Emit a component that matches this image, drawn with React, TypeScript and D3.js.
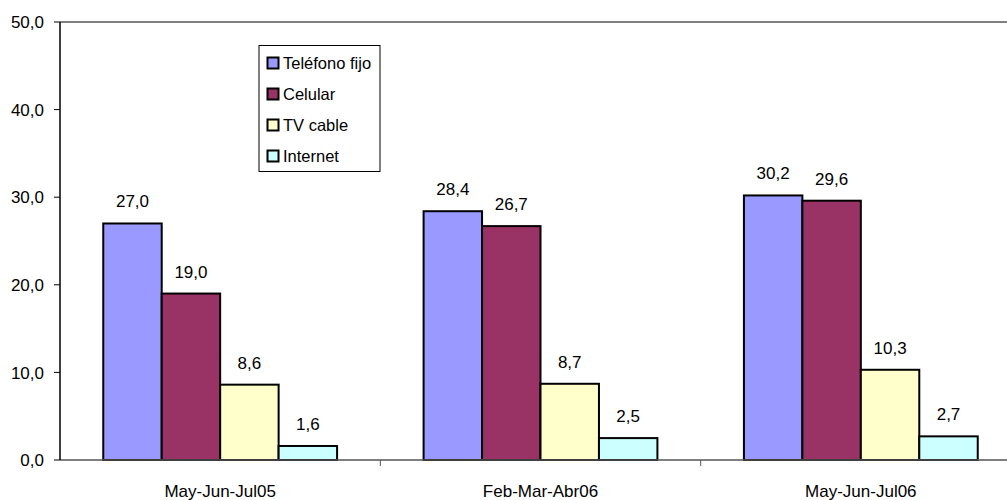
import { useEffect, useRef } from 'react';
import * as d3 from 'd3';

const categories = ['May-Jun-Jul05', 'Feb-Mar-Abr06', 'May-Jun-Jul06'];
const seriesNames = ['Teléfono fijo', 'Celular', 'TV cable', 'Internet'];
const seriesColors = ['#9999ff', '#993366', '#ffffcc', '#ccffff'];
const telefonoFijo = [27.0, 28.4, 30.2];
const celular = [19.0, 26.7, 29.6];
const tvCable = [8.6, 8.7, 10.3];
const internet = [1.6, 2.5, 2.7];
const yTicks = [0, 10, 20, 30, 40, 50];

const fmt = (v: number) => v.toFixed(1).replace('.', ',');

export default function App() {
  const ref = useRef<SVGSVGElement>(null);
  const width = 1007;
  const height = 500;

  useEffect(() => {
    if (!ref.current) return;
    const svg = d3.select(ref.current);
    svg.selectAll('*').remove();

    const left = 60;
    const right = 1021;
    const top = 22;
    const bottom = 460;
    const font = 'Liberation Sans, Arial, sans-serif';
    const fs = 17;
    const values = [telefonoFijo, celular, tvCable, internet];

    const x0 = d3.scaleBand<string>().domain(categories).range([left, right]);
    const x1 = d3
      .scaleBand<string>()
      .domain(seriesNames)
      .range([0, x0.bandwidth()])
      .paddingInner(0)
      .paddingOuter(0.74);
    const y = d3.scaleLinear().domain([0, 50]).range([bottom, top]);

    // top border line at 50
    svg.append('line')
      .attr('x1', left).attr('x2', width)
      .attr('y1', y(50)).attr('y2', y(50))
      .attr('stroke', '#808080').attr('stroke-width', 2);

    // bars
    categories.forEach((c, ci) => {
      seriesNames.forEach((s, si) => {
        const v = values[si][ci];
        const bx = x0(c)! + x1(s)!;
        svg.append('rect')
          .attr('x', bx).attr('y', y(v))
          .attr('width', x1.bandwidth()).attr('height', y(0) - y(v))
          .attr('fill', seriesColors[si])
          .attr('stroke', '#000').attr('stroke-width', 2);
        svg.append('text')
          .attr('x', bx + x1.bandwidth() / 2).attr('y', y(v) - 16)
          .attr('text-anchor', 'middle')
          .attr('font-family', font).attr('font-size', fs)
          .attr('fill', '#000')
          .text(fmt(v));
      });
    });

    // x axis
    svg.append('line')
      .attr('x1', left).attr('x2', width)
      .attr('y1', bottom).attr('y2', bottom)
      .attr('stroke', '#555').attr('stroke-width', 1.5);
    categories.forEach((c) => {
      const tx = x0(c)! + x0.bandwidth();
      svg.append('line')
        .attr('x1', tx).attr('x2', tx)
        .attr('y1', bottom).attr('y2', bottom + 6)
        .attr('stroke', '#555').attr('stroke-width', 1);
      svg.append('text')
        .attr('x', x0(c)! + x0.bandwidth() / 2).attr('y', 497)
        .attr('text-anchor', 'middle')
        .attr('font-family', font).attr('font-size', fs)
        .text(c);
    });

    // y axis
    svg.append('line')
      .attr('x1', left).attr('x2', left)
      .attr('y1', top).attr('y2', bottom)
      .attr('stroke', '#000').attr('stroke-width', 1.5);
    yTicks.forEach((t) => {
      svg.append('line')
        .attr('x1', left - 6).attr('x2', left)
        .attr('y1', y(t)).attr('y2', y(t))
        .attr('stroke', '#000').attr('stroke-width', 1);
      svg.append('text')
        .attr('x', 44).attr('y', y(t))
        .attr('dy', '0.36em')
        .attr('text-anchor', 'end')
        .attr('font-family', font).attr('font-size', fs)
        .text(fmt(t));
    });

    // legend
    const lg = svg.append('g');
    lg.append('rect')
      .attr('x', 259).attr('y', 45.5)
      .attr('width', 121).attr('height', 126)
      .attr('fill', '#fff').attr('stroke', '#000').attr('stroke-width', 1);
    seriesNames.forEach((s, i) => {
      const cy = 63 + i * 31;
      lg.append('rect')
        .attr('x', 267.5).attr('y', cy - 5.5)
        .attr('width', 11).attr('height', 11)
        .attr('fill', seriesColors[i])
        .attr('stroke', '#000').attr('stroke-width', 2);
      lg.append('text')
        .attr('x', 283).attr('y', cy)
        .attr('dy', '0.36em')
        .attr('font-family', font).attr('font-size', 16.5)
        .text(s);
    });
  }, []);

  return (
    <svg
      ref={ref}
      width={width}
      height={height}
      style={{ position: 'absolute', left: 0, top: 0, background: '#fff' }}
    />
  );
}
